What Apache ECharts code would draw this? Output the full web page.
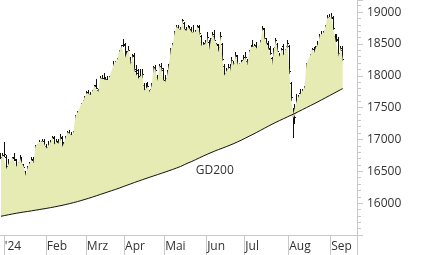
<!DOCTYPE html>
<html><head><meta charset="utf-8">
<script src="https://cdn.jsdelivr.net/npm/echarts@6/dist/echarts.min.js"></script>
<style>html,body{margin:0;padding:0;background:#fff}#c{width:426px;height:255px}</style>
</head><body><div id="c"></div>
<script>
const dates = [
"2023-12-28","2023-12-29",
"2024-01-02","2024-01-03","2024-01-04","2024-01-05","2024-01-08","2024-01-09","2024-01-10","2024-01-11","2024-01-12","2024-01-15","2024-01-16","2024-01-17","2024-01-18","2024-01-19","2024-01-22","2024-01-23","2024-01-24","2024-01-25","2024-01-26","2024-01-29","2024-01-30","2024-01-31",
"2024-02-01","2024-02-02","2024-02-05","2024-02-06","2024-02-07","2024-02-08","2024-02-09","2024-02-12","2024-02-13","2024-02-14","2024-02-15","2024-02-16","2024-02-19","2024-02-20","2024-02-21","2024-02-22","2024-02-23","2024-02-26","2024-02-27","2024-02-28","2024-02-29",
"2024-03-01","2024-03-04","2024-03-05","2024-03-06","2024-03-07","2024-03-08","2024-03-11","2024-03-12","2024-03-13","2024-03-14","2024-03-15","2024-03-18","2024-03-19","2024-03-20","2024-03-21","2024-03-22","2024-03-25","2024-03-26","2024-03-27","2024-03-28",
"2024-04-02","2024-04-03","2024-04-04","2024-04-05","2024-04-08","2024-04-09","2024-04-10","2024-04-11","2024-04-12","2024-04-15","2024-04-16","2024-04-17","2024-04-18","2024-04-19","2024-04-22","2024-04-23","2024-04-24","2024-04-25","2024-04-26","2024-04-29","2024-04-30",
"2024-05-02","2024-05-03","2024-05-06","2024-05-07","2024-05-08","2024-05-09","2024-05-10","2024-05-13","2024-05-14","2024-05-15","2024-05-16","2024-05-17","2024-05-20","2024-05-21","2024-05-22","2024-05-23","2024-05-24","2024-05-27","2024-05-28","2024-05-29","2024-05-30","2024-05-31",
"2024-06-03","2024-06-04","2024-06-05","2024-06-06","2024-06-07","2024-06-10","2024-06-11","2024-06-12","2024-06-13","2024-06-14","2024-06-17","2024-06-18","2024-06-19","2024-06-20","2024-06-21","2024-06-24","2024-06-25","2024-06-26","2024-06-27","2024-06-28",
"2024-07-01","2024-07-02","2024-07-03","2024-07-04","2024-07-05","2024-07-08","2024-07-09","2024-07-10","2024-07-11","2024-07-12","2024-07-15","2024-07-16","2024-07-17","2024-07-18","2024-07-19","2024-07-22","2024-07-23","2024-07-24","2024-07-25","2024-07-26","2024-07-29","2024-07-30","2024-07-31",
"2024-08-01","2024-08-02","2024-08-05","2024-08-06","2024-08-07","2024-08-08","2024-08-09","2024-08-12","2024-08-13","2024-08-14","2024-08-15","2024-08-16","2024-08-19","2024-08-20","2024-08-21","2024-08-22","2024-08-23","2024-08-26","2024-08-27","2024-08-28","2024-08-29","2024-08-30",
"2024-09-02","2024-09-03","2024-09-04","2024-09-05","2024-09-06","2024-09-09","2024-09-10",
"2024-09-11","2024-09-12","2024-09-13","2024-09-16","2024-09-17","2024-09-18","2024-09-19"
];
const monthLabels = ["'24","Feb","Mrz","Apr","Mai","Jun","Jul","Aug","Sep"];
const yTicks = {min:15500, max:19190, step:500};

const open = [
16760,16720,
16760,16730,16580,16610,16590,16720,16670,16600,16580,16680,16600,16500,16450,16580,16600,16690,16700,16880,16930,16950,16930,16980,
16900,16880,16900,16960,17020,16950,16980,16950,17020,16900,16960,17050,17110,17080,17060,17200,17380,17400,17430,17560,17620,
17690,17740,17710,17720,17740,17850,17780,17780,17970,17970,17950,17950,17920,17990,18100,18190,18220,18280,18400,18480,
18490,18250,18390,18280,18210,18320,18100,18040,17990,17990,17850,17800,17820,17700,17800,17900,18120,17980,17980,18160,18090,
17930,17960,18040,18200,18420,18510,18700,18760,18740,18760,18830,18720,18710,18740,18730,18690,18680,18700,18760,18620,18470,18520,
18540,18530,18440,18600,18620,18400,18480,18450,18500,18150,18040,18100,18140,18120,18200,18200,18310,18150,18150,18250,
18300,18230,18230,18400,18480,18420,18490,18410,18440,18560,18730,18530,18500,18420,18280,18220,18450,18500,18300,18330,18470,18300,18460,
18460,17880,17400,17330,17450,17530,17730,17730,17740,17900,18200,18250,18350,18420,18370,18470,18500,18640,18620,18690,18820,18920,
18920,18900,18620,18620,18560,18360,18400
];
const high = [
16790,16780,
16962,16760,16690,16640,16730,16790,16690,16640,16750,16720,16620,16510,16590,16640,16720,16730,16920,16930,16990,16980,17000,17010,
16930,16970,16990,17060,17050,17010,17010,17080,17060,16960,17060,17130,17150,17110,17130,17390,17440,17440,17570,17620,17690,
17760,17780,17740,17780,17860,17950,17800,17990,18010,18040,17980,17990,17990,18030,18230,18230,18280,18400,18490,18570,
18520,18390,18470,18300,18340,18350,18170,18100,18100,18100,17880,17890,17900,17780,17890,18150,18170,18010,18190,18200,18120,
18010,18090,18180,18440,18510,18700,18790,18800,18770,18892,18850,18760,18790,18780,18760,18800,18720,18790,18790,18640,18530,18560,
18690,18560,18600,18680,18720,18520,18500,18680,18520,18180,18120,18190,18180,18300,18240,18370,18330,18200,18250,18330,
18380,18260,18400,18460,18560,18500,18530,18460,18560,18780,18750,18600,18540,18470,18300,18430,18600,18520,18360,18440,18500,18420,18560,
18490,17900,17500,17560,17720,17700,17800,17800,17840,18200,18250,18340,18440,18450,18460,18550,18650,18700,18700,18800,18960,18970,
18990,18940,18660,18660,18610,18470,18460
];
const low = [
16700,16700,
16730,16500,16560,16480,16560,16660,16550,16480,16560,16600,16500,16345,16420,16520,16580,16600,16680,16800,16900,16900,16890,16880,
16820,16860,16880,16940,16900,16910,16900,16940,16850,16860,16940,17020,17060,17000,17030,17190,17360,17380,17410,17530,17580,
17640,17690,17620,17680,17720,17790,17700,17760,17920,17900,17880,17890,17860,17960,18090,18130,18190,18270,18370,18450,
18230,18200,18360,18140,18190,18050,18000,17920,17900,17960,17720,17730,17780,17626,17780,17880,18020,17820,17960,18060,17900,
17860,17950,18030,18190,18350,18490,18680,18700,18660,18740,18710,18650,18690,18660,18640,18650,18600,18690,18640,18440,18420,18400,
18500,18330,18420,18560,18520,18380,18330,18420,18230,17954,17990,18050,18040,18100,18120,18190,18140,18110,18120,18220,
18250,18120,18220,18370,18420,18360,18410,18340,18410,18550,18560,18440,18400,18320,18150,18200,18430,18370,18120,18300,18300,18270,18440,
18030,17600,17024,17250,17420,17500,17650,17660,17700,17880,18090,18230,18330,18310,18320,18440,18480,18600,18580,18650,18800,18850,
18890,18720,18500,18530,18280,18300,18230
];
const close = [
16701,16752,
16769,16538,16617,16594,16716,16689,16573,16547,16705,16622,16572,16432,16567,16555,16683,16628,16890,16907,16961,16942,16972,16904,
16859,16918,16958,17033,16922,16963,16927,17037,16880,16946,17047,17117,17092,17068,17118,17370,17419,17424,17556,17601,17678,
17735,17716,17698,17716,17842,17815,17746,17965,17961,17942,17936,17932,17987,18015,18180,18206,18261,18384,18477,18492,
18283,18367,18403,18175,18318,18077,18097,17954,17930,18027,17767,17770,17837,17737,17860,18137,18089,17917,18161,18118,17932,
17897,18001,18175,18430,18498,18686,18773,18742,18716,18869,18738,18704,18768,18726,18680,18691,18693,18774,18677,18473,18496,18498,
18608,18405,18571,18653,18557,18494,18370,18630,18265,18002,18068,18131,18067,18254,18164,18325,18177,18155,18211,18235,
18291,18164,18374,18450,18475,18472,18429,18407,18534,18748,18590,18518,18437,18354,18171,18407,18557,18387,18299,18418,18320,18411,18508,
18083,17661,17339,17354,17615,17680,17723,17726,17812,18185,18166,18322,18421,18357,18448,18493,18633,18617,18681,18782,18912,18906,
18930,18747,18592,18576,18302,18443,18266
];
const ma200 = [
15794,15800,15806,15812,15818,15824,15830,15836,15841,15846,
15851,15856,15861,15866,15870,15875,15879,15884,15889,15894,
15899,15904,15909,15914,15919,15924,15930,15935,15941,15947,
15953,15959,15965,15972,15979,15986,15993,16000,16008,16016,
16024,16032,16041,16050,16059,16068,16077,16087,16096,16106,
16116,16126,16136,16146,16156,16166,16176,16186,16196,16206,
16216,16227,16237,16248,16259,16270,16281,16292,16303,16314,
16325,16336,16346,16357,16367,16378,16388,16398,16408,16418,
16428,16438,16448,16458,16468,16478,16488,16498,16509,16519,
16530,16541,16552,16563,16575,16589,16603,16617,16631,16643,
16655,16670,16684,16698,16712,16726,16740,16754,16767,16780,
16793,16806,16818,16830,16842,16853,16864,16876,16887,16899,
16911,16923,16936,16949,16963,16977,16991,17006,17021,17036,
17051,17066,17081,17096,17112,17128,17144,17160,17176,17192,
17208,17224,17239,17254,17269,17284,17298,17312,17326,17340,
17354,17368,17382,17396,17410,17425,17440,17455,17470,17485,
17500,17515,17530,17545,17560,17575,17591,17607,17623,17639,
17655,17671,17687,17703,17719,17735,17751,17767,17783,17799
];
const maLabel = {text:'GD200', date:'2024-06-07', value:16505};

// derived structures
const monthStartIdx = [];
for (let i = 1; i < dates.length; i++) {
  if (dates[i].slice(0,7) !== dates[i-1].slice(0,7)) monthStartIdx.push(i);
}
const monthLabelOf = {};
monthStartIdx.forEach((idx, k) => { monthLabelOf[idx] = monthLabels[k]; });
const isMonthStart = (i) => monthLabelOf[i] !== undefined;

const diffPos = close.map((c, i) => Math.max(c - ma200[i], 0));
const diffNeg = close.map((c, i) => Math.min(c - ma200[i], 0));
const ohlc = close.map((c, i) => [i, open[i], high[i], low[i], c]);

const FONT = 'Open Sans';
const TXT = '#333';
const AX = '#c8c8c8';
const BAR = '#111';

const chart = echarts.init(document.getElementById('c'), null, {renderer:'canvas'});
chart.setOption({
  animation: false,
  backgroundColor: '#fff',
  grid: {left: -1, right: 69, top: 0, bottom: 20, containLabel: false},
  xAxis: {
    type: 'category', data: dates, boundaryGap: true,
    axisLine: {show: true, lineStyle: {color: AX, width: 1}},
    axisTick: {show: true, length: 20, interval: (i) => isMonthStart(i), lineStyle: {color: AX}},
    axisLabel: {
      interval: (i) => isMonthStart(i),
      formatter: (v, i) => monthLabelOf[i] || '',
      align: 'left', margin: 6, fontSize: 12, color: TXT, fontFamily: FONT
    },
    splitLine: {show: false}
  },
  yAxis: {
    type: 'value', position: 'right', min: yTicks.min, max: yTicks.max, interval: yTicks.step,
    axisLine: {show: true, lineStyle: {color: AX, width: 1}},
    axisTick: {show: true, length: 6, lineStyle: {color: AX}},
    minorTick: {show: true, splitNumber: 5, length: 4, lineStyle: {color: AX}},
    axisLabel: {showMinLabel: false, showMaxLabel: false, margin: 10, fontSize: 12, color: TXT, fontFamily: FONT,
      formatter: (v) => String(v)},
    splitLine: {show: false}
  },
  series: [
    {type: 'line', data: ma200, stack: 'pos', stackStrategy: 'all', symbol: 'none', lineStyle: {opacity: 0}, silent: true},
    {type: 'line', data: diffPos, stack: 'pos', stackStrategy: 'all', symbol: 'none', lineStyle: {opacity: 0},
     areaStyle: {color: '#e6ebb4', opacity: 1}, silent: true},
    {type: 'line', data: ma200, stack: 'neg', stackStrategy: 'all', symbol: 'none', lineStyle: {opacity: 0}, silent: true},
    {type: 'line', data: diffNeg, stack: 'neg', stackStrategy: 'all', symbol: 'none', lineStyle: {opacity: 0},
     areaStyle: {color: '#eec3b6', opacity: 1}, silent: true},
    {type: 'line', data: ma200, symbol: 'none', lineStyle: {color: '#111', width: 1}, silent: true,
     markPoint: {
       symbol: 'circle', symbolSize: 0, silent: true,
       data: [{coord: [maLabel.date, maLabel.value], value: maLabel.text}],
       label: {show: true, position: 'inside', formatter: maLabel.text, fontSize: 12, color: TXT, fontFamily: FONT}
     }},
    {type: 'custom', data: ohlc, encode: {x: 0, y: [1, 2, 3, 4]}, silent: true,
     renderItem: (params, api) => {
       const i = api.value(0);
       const h = api.coord([i, api.value(2)]);
       const l = api.coord([i, api.value(3)]);
       const o = api.coord([i, api.value(1)]);
       const c = api.coord([i, api.value(4)]);
       const px = Math.floor(h[0]);
       const top = Math.round(h[1]), bot = Math.round(l[1]);
       return {type: 'group', children: [
         {type: 'rect', shape: {x: px, y: top, width: 1, height: Math.max(1, bot - top)}, style: {fill: BAR}},
         {type: 'rect', shape: {x: px - 1, y: Math.round(o[1]), width: 1, height: 1}, style: {fill: BAR}},
         {type: 'rect', shape: {x: px + 1, y: Math.round(c[1]), width: 1, height: 1}, style: {fill: BAR}}
       ]};
     }}
  ]
});
</script>
</body></html>
